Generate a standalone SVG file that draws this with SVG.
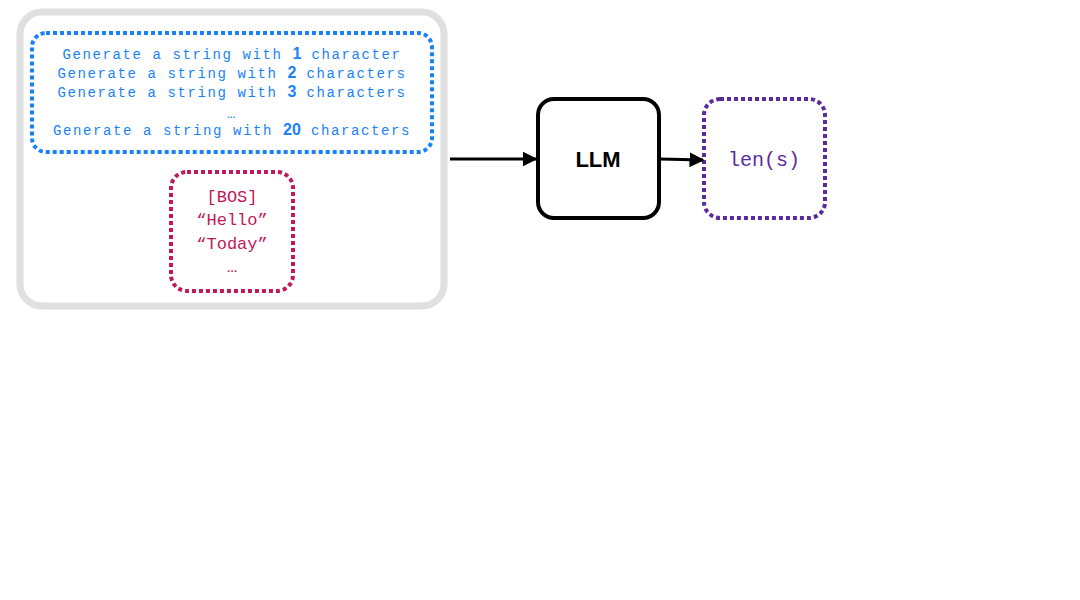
<svg xmlns="http://www.w3.org/2000/svg" width="1080" height="600" viewBox="0 0 1080 600">
<defs>
<style>
.b{font-family:"Liberation Mono",monospace;font-size:14px;letter-spacing:1.6px;fill:#1a82f7;text-anchor:middle}
.b tspan.n{font-family:"Liberation Sans",Arial,sans-serif;font-weight:bold;font-size:16px;letter-spacing:0}
.p{font-family:"Liberation Mono",monospace;font-size:17px;fill:#c0185c;text-anchor:middle}
</style>
<marker id="ah" viewBox="0 0 10 10" refX="9" refY="5" markerWidth="5" markerHeight="5" orient="auto"><path d="M0,0L10,5L0,10z" fill="#000"/></marker>
</defs>
<rect width="1080" height="600" fill="#fff"/>
<g id="input">
<rect x="20" y="12" width="424" height="294" rx="22" fill="#fff" stroke="#e0e0e0" stroke-width="7"/>
</g>
<g id="prompts">
<rect x="32" y="33" width="400" height="119" rx="14" fill="none" stroke="#1a82f7" stroke-width="4" stroke-dasharray="4 3"/>
<text class="b" x="232" y="59">Generate a string with <tspan class="n">1</tspan> character</text>
<text class="b" x="232" y="78">Generate a string with <tspan class="n">2</tspan> characters</text>
<text class="b" x="232" y="97">Generate a string with <tspan class="n">3</tspan> characters</text>
<text class="b" x="232" y="118">…</text>
<text class="b" x="232" y="135">Generate a string with <tspan class="n">20</tspan> characters</text>
</g>
<g id="starts">
<rect x="171" y="172" width="122" height="119" rx="16" fill="none" stroke="#c0185c" stroke-width="4" stroke-dasharray="4 3"/>
<text class="p" x="232" y="202">[BOS]</text>
<text class="p" x="232" y="225">“Hello”</text>
<text class="p" x="232" y="249">“Today”</text>
<text class="p" x="232" y="272">…</text>
</g>
<g id="llm">
<rect x="538" y="99" width="121" height="119" rx="16" fill="#fff" stroke="#000" stroke-width="4"/>
<text x="598" y="167" font-family="Liberation Sans,Arial,sans-serif" font-weight="bold" font-size="22" text-anchor="middle">LLM</text>
</g>
<g id="output">
<rect x="704" y="99" width="121" height="119" rx="16" fill="none" stroke="#5b2a9c" stroke-width="4" stroke-dasharray="4 3"/>
<text x="764" y="166" font-family="Liberation Mono,monospace" font-size="20" fill="#5b2a9c" text-anchor="middle">len(s)</text>
</g>
<g id="connectors" stroke="#000" stroke-width="3" fill="none">
<line x1="450" y1="159" x2="536" y2="159" marker-end="url(#ah)"/>
<line x1="660" y1="159" x2="703" y2="160" marker-end="url(#ah)"/>
</g>
</svg>
